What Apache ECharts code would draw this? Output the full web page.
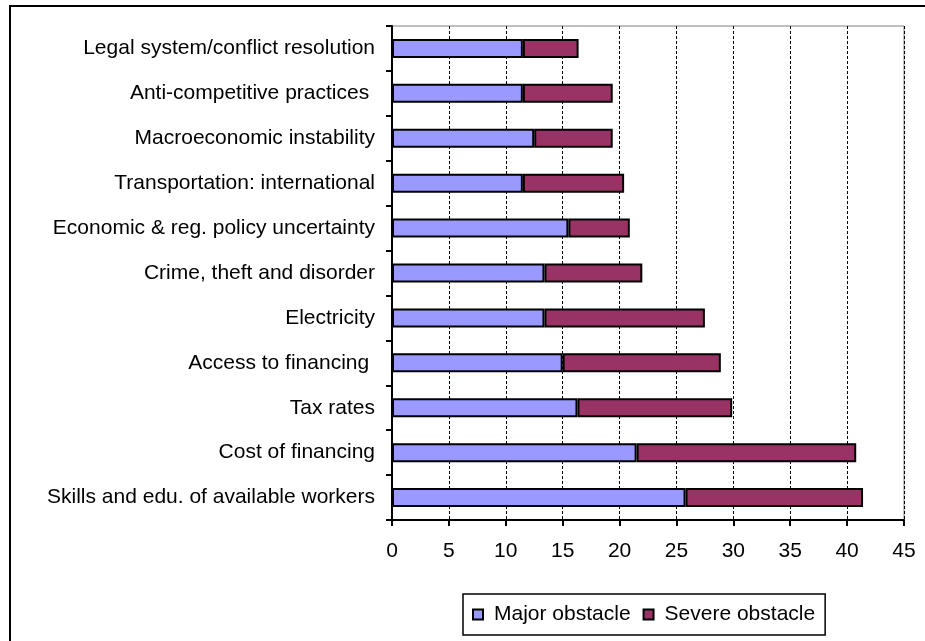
<!DOCTYPE html>
<html>
<head>
<meta charset="utf-8">
<script src="https://cdn.jsdelivr.net/npm/echarts@6/dist/echarts.min.js"></script>
<style>
  html, body { margin: 0; padding: 0; background: #fff; }
  #chart { width: 925px; height: 641px; }
</style>
</head>
<body>
<div id="chart"></div>
<script>
// Obstacles, listed top to bottom as they appear on the chart
const categories = [
  'Legal system/conflict resolution',
  'Anti-competitive practices ',
  'Macroeconomic instability',
  'Transportation: international',
  'Economic & reg. policy uncertainty',
  'Crime, theft and disorder',
  'Electricity',
  'Access to financing ',
  'Tax rates',
  'Cost of financing',
  'Skills and edu. of available workers'
];

// Percent of firms rating each item a major / severe obstacle
const majorObstacle  = [11.5, 11.5, 12.5, 11.5, 15.5, 13.4, 13.4, 15.0, 16.3, 21.5, 25.8];
const severeObstacle = [4.9, 7.9, 6.9, 8.9, 5.4, 8.6, 14.1, 13.9, 13.6, 19.3, 15.6];

const seriesNames = ['Major obstacle', 'Severe obstacle'];
const xTicks = { min: 0, max: 45, step: 5 };

const FONT = '"Liberation Sans", Arial, sans-serif';

const chart = echarts.init(document.getElementById('chart'), null, { renderer: 'canvas' });

chart.setOption({
  animation: false,
  backgroundColor: '#ffffff',
  textStyle: { fontFamily: FONT },
  graphic: [{
    type: 'rect',
    shape: { x: 10, y: 6, width: 940, height: 660 },
    style: { fill: 'none', stroke: '#000', lineWidth: 2 },
    silent: true,
    z: 100
  }],
  grid: {
    left: 392, top: 26, right: 21, bottom: 121,
    show: true, borderColor: '#808080', borderWidth: 1, backgroundColor: '#ffffff'
  },
  legend: {
    data: seriesNames,
    left: 463, top: 594,
    orient: 'horizontal',
    padding: [10, 10, 10, 9],
    itemGap: 12,
    itemWidth: 10, itemHeight: 10,
    icon: 'rect',
    borderColor: '#000', borderWidth: 1.5,
    textStyle: { fontFamily: FONT, fontSize: 21, color: '#000', padding: [0, 0, 0, 6] }
  },
  xAxis: {
    type: 'value',
    min: xTicks.min, max: xTicks.max, interval: xTicks.step,
    axisLine: { show: true, lineStyle: { color: '#000', width: 2 } },
    axisTick: { show: true, length: 6, lineStyle: { color: '#000', width: 2 } },
    axisLabel: { fontFamily: FONT, fontSize: 21, color: '#000', margin: 21 },
    splitLine: { show: true, lineStyle: { color: '#000', width: 1, type: [3, 2] } }
  },
  yAxis: {
    type: 'category',
    data: categories,
    inverse: true,
    axisLine: { show: true, lineStyle: { color: '#000', width: 2 } },
    axisTick: { show: true, length: 6, lineStyle: { color: '#000', width: 2 } },
    axisLabel: { fontFamily: FONT, fontSize: 21, color: '#000', margin: 17 },
    splitLine: { show: false }
  },
  series: [
    {
      name: seriesNames[0],
      type: 'bar',
      stack: 'total',
      barWidth: 19,
      data: majorObstacle,
      itemStyle: { color: '#9999FF', borderColor: '#000', borderWidth: 2 }
    },
    {
      name: seriesNames[1],
      type: 'bar',
      stack: 'total',
      barWidth: 19,
      data: severeObstacle,
      itemStyle: { color: '#993366', borderColor: '#000', borderWidth: 2 }
    }
  ]
});
</script>
</body>
</html>
